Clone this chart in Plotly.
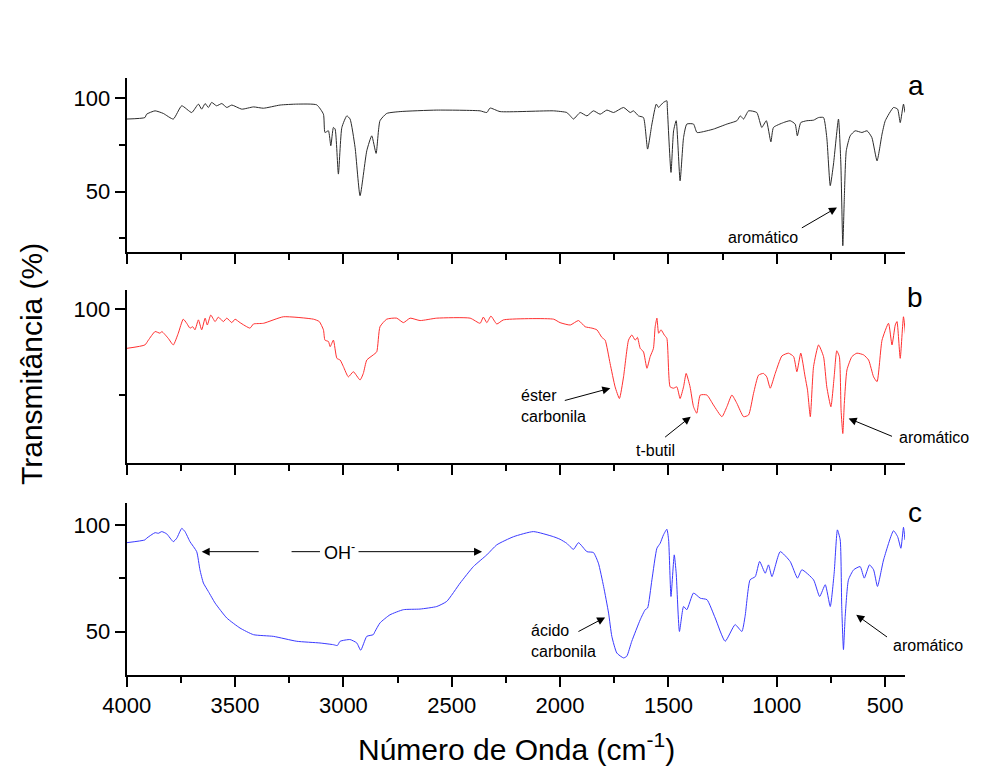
import plotly.graph_objects as go

# FTIR spectra: wavenumber (cm-1) and transmittance (%)
a_wn = [4000, 3916, 3908, 3869, 3831, 3785, 3746, 3700, 3669, 3654, 3638, 3623, 3608, 3585, 3561,
        3538, 3515, 3469, 3415, 3369, 3292, 3215, 3123, 3092, 3085, 3069, 3058, 3046, 3038, 3023,
        3007, 2984, 2969, 2946, 2923, 2892, 2869, 2849, 2831, 2800, 2738, 2569, 2369, 2338, 2323,
        2277, 2030, 1969, 1953, 1938, 1907, 1876, 1846, 1815, 1784, 1753, 1707, 1676, 1661, 1638,
        1615, 1596, 1576, 1556, 1545, 1538, 1523, 1507, 1505, 1488, 1476, 1464, 1446, 1430, 1415,
        1384, 1368, 1322, 1292, 1230, 1184, 1168, 1153, 1130, 1092, 1069, 1048, 1027, 1015, 969,
        938, 915, 905, 889, 861, 830, 807, 784, 769, 753, 738, 715, 704, 695, 688, 679, 661, 638,
        607, 583, 561, 537, 514, 499, 461, 442, 430, 415, 408]
a_t = [88.9, 89.7, 91.5, 93.3, 91.9, 88.9, 96.0, 92.4, 96.9, 94.2, 97.2, 95.1, 97.8, 96.0, 97.2,
       95.1, 96.4, 94.2, 95.4, 94.7, 96.4, 96.9, 96.5, 91.5, 81.7, 82.6, 74.6, 84.4, 83.5, 59.4,
       84.4, 90.6, 88.9, 73.7, 47.8, 71.9, 79.9, 70.5, 88.0, 91.9, 92.9, 93.7, 93.3, 92.4, 94.8,
       92.9, 93.3, 92.4, 90.6, 88.9, 92.4, 90.6, 93.3, 91.5, 93.7, 92.4, 95.1, 92.4, 93.3, 90.6,
       89.7, 72.8, 86.2, 96.9, 95.1, 96.0, 97.8, 98.7, 95.1, 60.3, 82.6, 88.0, 55.8, 79.0, 86.2,
       86.2, 81.7, 82.6, 83.5, 86.2, 88.0, 90.6, 88.9, 93.3, 92.4, 84.4, 88.0, 76.7, 84.4, 87.0,
       88.0, 86.2, 79.9, 87.0, 88.0, 88.3, 89.7, 89.7, 79.0, 53.2, 64.8, 88.9, 64.8, 21.0, 46.9,
       71.9, 79.9, 82.6, 81.7, 82.6, 79.0, 66.5, 80.8, 88.0, 95.1, 94.2, 87.0, 96.9, 92.4]

b_wn = [4000, 3916, 3900, 3869, 3846, 3838, 3808, 3785, 3762, 3739, 3723, 3708, 3695, 3685, 3669,
        3654, 3638, 3628, 3612, 3592, 3577, 3554, 3538, 3515, 3500, 3477, 3431, 3415, 3369, 3277,
        3138, 3111, 3092, 3085, 3069, 3061, 3046, 3030, 3015, 3000, 2977, 2954, 2923, 2908, 2892,
        2862, 2846, 2831, 2800, 2754, 2723, 2692, 2646, 2569, 2415, 2369, 2354, 2338, 2319, 2292,
        2261, 2030, 2000, 1953, 1915, 1884, 1853, 1830, 1807, 1792, 1769, 1746, 1726, 1707, 1684,
        1669, 1653, 1643, 1630, 1615, 1599, 1584, 1569, 1561, 1553, 1545, 1534, 1519, 1507, 1492,
        1476, 1461, 1446, 1430, 1418, 1400, 1384, 1369, 1353, 1322, 1292, 1253, 1230, 1207, 1184,
        1153, 1130, 1107, 1084, 1061, 1046, 1030, 1007, 976, 946, 922, 907, 889, 869, 858, 845,
        830, 807, 784, 769, 750, 735, 723, 711, 703, 695, 688, 676, 653, 630, 599, 576, 553, 537,
        514, 484, 468, 453, 445, 430, 415, 404]
b_t = [88.6, 89.6, 91.0, 93.5, 93.0, 93.5, 91.5, 89.6, 93.0, 97.1, 95.9, 94.5, 94.9, 94.0, 96.9,
       94.0, 97.4, 95.4, 98.3, 96.4, 97.7, 96.4, 97.4, 96.1, 97.1, 96.1, 94.5, 95.7, 95.9, 97.8,
       97.1, 96.4, 94.0, 91.0, 90.6, 89.1, 91.0, 85.7, 85.2, 83.3, 80.3, 81.8, 79.4, 81.3, 85.2,
       86.7, 87.6, 94.9, 97.1, 97.4, 96.1, 97.4, 96.7, 97.4, 97.4, 95.9, 97.7, 96.1, 98.0, 95.7,
       96.9, 97.1, 96.1, 95.4, 96.7, 94.9, 94.5, 94.0, 91.8, 91.0, 84.2, 77.4, 74.0, 80.3, 91.0,
       92.5, 91.0, 91.8, 88.6, 87.6, 82.8, 86.2, 88.6, 94.9, 97.4, 93.0, 94.0, 92.5, 91.5, 77.4,
       77.0, 77.4, 74.0, 77.4, 81.3, 77.4, 71.6, 69.7, 75.0, 75.0, 72.1, 68.7, 71.6, 75.0, 72.6,
       68.7, 69.2, 75.5, 80.8, 81.3, 80.3, 77.0, 81.3, 86.4, 87.2, 86.2, 81.8, 87.2, 80.3, 76.5, 68.7,
       83.3, 89.6, 86.2, 77.4, 71.6, 80.3, 87.9, 86.2, 70.6, 63.8, 72.6, 82.3, 86.2, 87.2, 86.7, 85.2,
       80.3, 78.9, 91.0, 95.9, 89.6, 95.4, 96.4, 85.7, 97.8, 91.5]

c_wn = [4000, 3916, 3908, 3869, 3854, 3838, 3815, 3785, 3769, 3746, 3731, 3708, 3677, 3662, 3646,
        3623, 3592, 3538, 3477, 3415, 3323, 3215, 3108, 3046, 3028, 3015, 2969, 2938, 2920, 2892,
        2862, 2854, 2831, 2785, 2723, 2646, 2569, 2523, 2461, 2400, 2338, 2292, 2215, 2123, 2030,
        2000, 1969, 1938, 1915, 1876, 1846, 1823, 1799, 1776, 1761, 1738, 1707, 1692, 1669, 1630,
        1607, 1596, 1576, 1553, 1538, 1523, 1507, 1499, 1488, 1473, 1464, 1449, 1430, 1415, 1384,
        1353, 1322, 1284, 1238, 1192, 1161, 1146, 1123, 1099, 1079, 1053, 1038, 1022, 984, 938, 904,
        884, 830, 802, 776, 753, 735, 720, 707, 700, 692, 684, 669, 645, 615, 596, 572, 553, 535,
        507, 461, 442, 427, 415, 408]
c_t = [91.7, 93.0, 93.8, 96.4, 96.1, 96.9, 95.8, 92.2, 93.8, 98.4, 96.9, 92.2, 87.5, 79.0, 72.8,
       68.8, 63.4, 56.4, 51.7, 48.6, 47.8, 45.5, 44.7, 43.9, 43.5, 45.5, 46.3, 44.7, 41.3, 47.8,
       48.6, 50.1, 54.1, 57.9, 60.3, 60.6, 61.8, 64.2, 72.8, 80.5, 86.0, 90.7, 94.5, 96.9, 94.5,
       93.3, 91.4, 88.6, 91.7, 87.5, 87.1, 82.1, 71.2, 58.7, 47.8, 40.0, 37.7, 38.5, 45.5, 55.6,
       60.3, 61.1, 74.3, 89.1, 91.4, 95.3, 98.0, 93.0, 66.5, 86.0, 77.4, 50.1, 61.8, 60.3, 68.1,
       65.7, 65.0, 56.4, 45.5, 53.3, 50.1, 57.2, 74.3, 75.8, 82.9, 77.4, 81.3, 75.8, 87.5, 82.9, 75.1,
       79.0, 74.3, 66.5, 72.0, 61.8, 77.4, 97.7, 93.0, 61.8, 41.6, 57.2, 74.3, 79.0, 80.5, 75.1, 81.3,
       79.0, 71.2, 83.6, 97.3, 94.5, 89.1, 98.9, 93.0]

FONT = "Arial, Liberation Sans, sans-serif"
W, H = 996, 769
X_DOM = [126.7 / W, 905 / W]


def ydom(top_px, bot_px):
    return [1 - bot_px / H, 1 - top_px / H]


fig = go.Figure()
line_common = dict(width=1, shape="spline", smoothing=0.5)
fig.add_trace(go.Scatter(x=a_wn, y=a_t, mode="lines", line=dict(color="#2b2b2b", **line_common),
                         xaxis="x", yaxis="y", showlegend=False, cliponaxis=True))
fig.add_trace(go.Scatter(x=b_wn, y=b_t, mode="lines", line=dict(color="#ff3030", **line_common),
                         xaxis="x2", yaxis="y2", showlegend=False, cliponaxis=True))
fig.add_trace(go.Scatter(x=c_wn, y=c_t, mode="lines", line=dict(color="#3a3aff", **line_common),
                         xaxis="x3", yaxis="y3", showlegend=False, cliponaxis=True))

xcommon = dict(domain=X_DOM, range=[4000, 408], tick0=500, dtick=500, ticks="outside",
               ticklen=10, tickwidth=2, tickcolor="black", showline=True, linewidth=2,
               linecolor="black", showgrid=False, zeroline=False, automargin=False,
               minor=dict(ticks="outside", ticklen=6, tickwidth=2, tickcolor="black", dtick=250,
                          showgrid=False),
               tickfont=dict(family=FONT, size=22, color="black"))
ycommon = dict(tick0=0, dtick=50, ticks="outside", ticklen=10, tickwidth=2, tickcolor="black",
               showline=True, linewidth=2, linecolor="black", showgrid=False, zeroline=False,
               automargin=False,
               minor=dict(ticks="outside", ticklen=6, tickwidth=2, tickcolor="black", dtick=25,
                          showgrid=False),
               tickfont=dict(family=FONT, size=22, color="black"))

fig.update_layout(
    width=W, height=H, margin=dict(l=0, r=0, t=0, b=0, autoexpand=False),
    paper_bgcolor="white", plot_bgcolor="white",
    xaxis=dict(**xcommon, anchor="y", showticklabels=False),
    xaxis2=dict(**xcommon, anchor="y2", matches="x", showticklabels=False),
    xaxis3=dict(**xcommon, anchor="y3", matches="x", showticklabels=True),
    yaxis=dict(**ycommon, domain=ydom(78, 251.7), range=[17.8, 110.9], anchor="x"),
    yaxis2=dict(**ycommon, domain=ydom(290, 462.7), range=[55.3, 105.6], anchor="x2"),
    yaxis3=dict(**ycommon, domain=ydom(503, 675), range=[29.7, 110.3], anchor="x3"),
)

ann = []


def label(px, py, text, size=16, xanchor="center", align="center", angle=0):
    ann.append(dict(x=px / W, y=1 - py / H, xref="paper", yref="paper", text=text,
                    showarrow=False, xanchor=xanchor, yanchor="middle", align=align,
                    textangle=angle, font=dict(family=FONT, size=size, color="black")))


def arrow(ax_, head, tail, head_style=2):
    xr, yr = ax_
    ann.append(dict(x=head[0], y=head[1], ax=tail[0], ay=tail[1], xref=xr, yref=yr,
                    axref=xr, ayref=yr, text="", showarrow=True, arrowhead=head_style,
                    arrowsize=1.6, arrowwidth=1, arrowcolor="black", standoff=0,
                    startstandoff=0))


# axis titles and panel letters
label(516, 747, "Número de Onda (cm<sup>-1</sup>)", size=30)
label(32, 364, "Transmitância (%)", size=30, angle=-90)
label(916, 86, "a", size=28)
label(915, 297, "b", size=28)
label(915, 512, "c", size=28)

# panel a
label(763, 237, "aromático")
arrow(("x", "y"), (722, 41.5), (891, 30.1))

# panel b
label(519, 406, "éster<br>carbonila", xanchor="left", align="left")
arrow(("x2", "y2"), (1768, 77.0), (1985, 73.3))
label(655, 450, "t-butil")
arrow(("x2", "y2"), (1397, 68.7), (1522, 62.4))
label(934, 437, "aromático")
arrow(("x2", "y2"), (668, 68.2), (461, 62.8))

# panel c
label(339, 551, "OH<sup>-</sup>", size=18)
arrow(("x3", "y3"), (3654, 87.5), (3384, 87.5))
arrow(("x3", "y3"), (3108, 87.5), (3246, 87.5), head_style=0)
arrow(("x3", "y3"), (2360, 87.5), (2937, 87.5))
label(529, 641, "ácido<br>carbonila", xanchor="left", align="left")
arrow(("x3", "y3"), (1792, 56.7), (1922, 49.7))
label(928, 645, "aromático")
arrow(("x3", "y3"), (633, 57.9), (484, 47.0))

fig.update_layout(annotations=ann)
fig.write_html("out.html")
